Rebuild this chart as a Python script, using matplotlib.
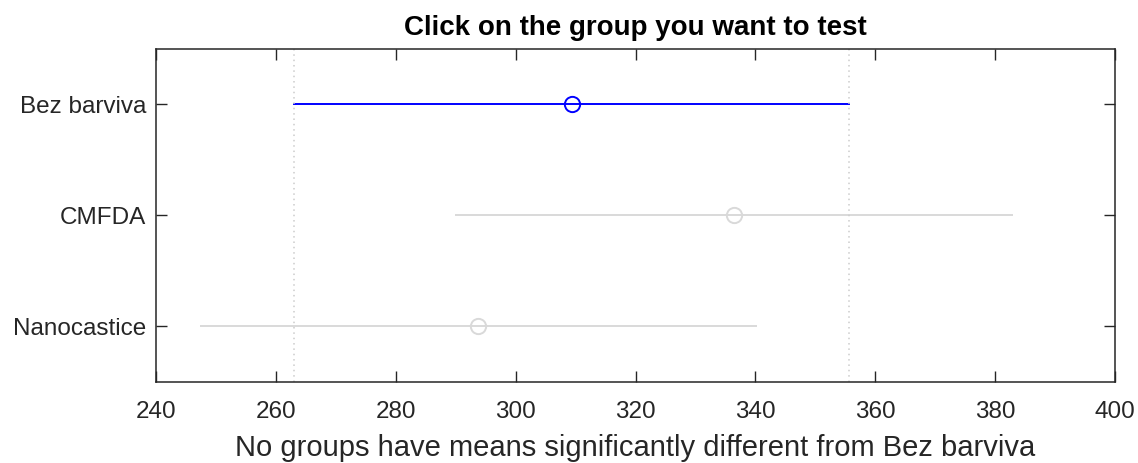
import numpy as np
import matplotlib
matplotlib.use('Agg')
import matplotlib.pyplot as plt

plt.rcParams['font.family'] = ['Liberation Sans', 'DejaVu Sans']

# group names, estimated means and comparison interval half-width
groups = ['Bez barviva', 'CMFDA', 'Nanocastice']
means = [309.35, 336.4, 293.8]
half_width = 46.33
selected = 0

fig = plt.figure(figsize=(11.38, 4.63), dpi=100)
ax = fig.add_axes([0.1371, 0.1756, 0.8427, 0.7186])

ypos = np.arange(1, len(groups) + 1)
for i, (m, y) in enumerate(zip(means, ypos)):
    col = 'blue' if i == selected else (0.85, 0.85, 0.85)
    ax.plot([m - half_width, m + half_width], [y, y], color=col, linewidth=1.4)
    ax.plot(m, y, 'o', mfc='none', mec=col, markersize=11, markeredgewidth=1.4)

# dotted reference lines at ends of the selected interval
lo = means[selected] - half_width
hi = means[selected] + half_width
for xv in (lo, hi):
    ax.axvline(xv, color=(0.8, 0.8, 0.8), linestyle=(0, (1, 2.5)), linewidth=1.1)

ax.set_xlim(240, 400)
ax.set_ylim(3.5, 0.5)
ax.set_xticks(np.arange(240, 401, 20))
ax.set_yticks(ypos)
ax.set_yticklabels(groups)

ax.tick_params(direction='in', length=8, width=1, labelsize=17.5, colors=(0.15, 0.15, 0.15),
               top=True, right=True)
ax.tick_params(axis='x', pad=14)
ax.tick_params(axis='y', pad=7)
for s in ax.spines.values():
    s.set_color((0.15, 0.15, 0.15))
    s.set_linewidth(1.1)

ax.set_title('Click on the group you want to test', fontsize=20, fontweight='bold', pad=10)
ax.set_xlabel('No groups have means significantly different from Bez barviva',
              fontsize=21, color=(0.15, 0.15, 0.15), labelpad=7.5)

fig.savefig('out.png', dpi=100)
